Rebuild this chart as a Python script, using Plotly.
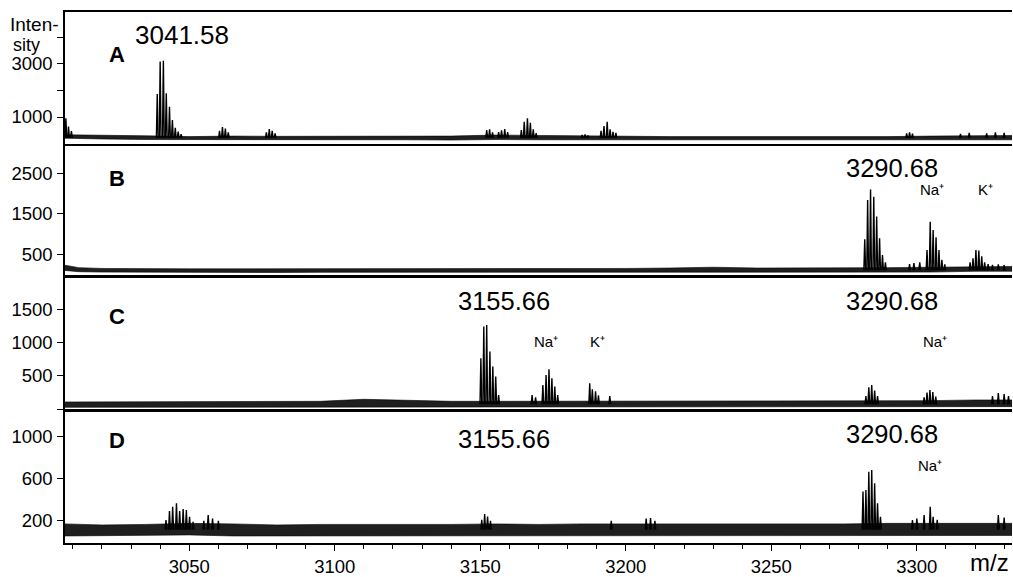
import plotly.graph_objects as go

# ---------------- data ----------------
# m/z window shown on the shared axis
mz_window = [3007.3, 3332.7]

# Panel A: isotope peaks (m/z, intensity) and baseline noise envelope
a_mz = [3007.6, 3008.5, 3009.5,
        3039.0, 3040.0, 3041.1, 3042.1, 3043.2, 3044.2, 3045.2, 3046.2, 3047.2,
        3060.4, 3061.4, 3062.4, 3063.4,
        3076.5, 3077.5, 3078.5, 3079.5,
        3152.2, 3153.2, 3154.2,
        3156.3, 3157.3, 3158.4, 3159.4,
        3164.1, 3165.1, 3166.2, 3167.2, 3168.2, 3169.2,
        3185.0, 3186.0, 3187.0,
        3191.5, 3192.5, 3193.6, 3194.6, 3195.6, 3196.6,
        3296.5, 3297.5, 3298.5,
        3315.0, 3318.0, 3324.0, 3327.0, 3330.0]
a_int = [950, 640, 470,
         1870, 3090, 3125, 1900, 1390, 890, 590, 450, 350,
         480, 620, 560, 420,
         420, 545, 480, 380,
         510, 535, 420,
         430, 500, 540, 430,
         510, 820, 950, 785, 535, 395,
         320, 340, 300,
         480, 660, 820, 535, 435, 400,
         380, 420, 370,
         360, 400, 380, 420, 400]
a_noise_mz = [3007.3, 3020, 3035, 3050, 3065, 3080, 3095, 3110, 3125, 3140, 3155,
              3170, 3185, 3200, 3215, 3230, 3245, 3260, 3275, 3290, 3305, 3320, 3332.7]
a_noise_lo = [200, 170, 150, 130, 140, 130, 130, 140, 140, 130, 150,
              140, 140, 130, 120, 120, 120, 120, 120, 120, 130, 140, 140]
a_noise_hi = [330, 300, 290, 260, 280, 270, 270, 290, 290, 280, 320,
              300, 300, 270, 260, 260, 260, 250, 250, 260, 280, 300, 300]

# Panel B
b_mz = [3282.1, 3283.1, 3284.1, 3285.2, 3286.2, 3287.2, 3288.2, 3289.2,
        3297.5, 3299.0, 3301.0,
        3303.5, 3304.6, 3305.6, 3306.6, 3307.6, 3308.6, 3309.6,
        3318.3, 3319.3, 3320.3, 3321.3, 3322.3, 3323.3, 3324.5, 3326.0, 3328.0, 3330.0]
b_int = [870, 1840, 2100, 1920, 1430, 895, 480, 300,
         260, 280, 300,
         605, 1300, 1100, 920, 605, 360, 250,
         300, 400, 605, 590, 450, 300, 260, 240, 250, 230]
b_noise_mz = [3007.3, 3012, 3020, 3035, 3050, 3065, 3080, 3095, 3110, 3125, 3140, 3155,
              3170, 3185, 3200, 3215, 3230, 3245, 3260, 3275, 3290, 3305, 3320, 3332.7]
b_noise_lo = [100, 70, 60, 50, 50, 50, 50, 55, 55, 60, 55, 55,
              55, 55, 55, 60, 70, 60, 60, 60, 60, 60, 80, 80]
b_noise_hi = [230, 170, 150, 140, 140, 140, 140, 145, 150, 155, 145, 150,
              150, 150, 150, 160, 180, 160, 160, 170, 170, 180, 200, 200]

# Panel C
c_mz = [3150.2, 3151.2, 3152.2, 3153.3, 3154.3, 3155.3, 3156.3,
        3167.8, 3169.0,
        3171.5, 3172.6, 3173.6, 3174.6, 3175.6, 3176.6,
        3187.6, 3188.5, 3189.6, 3190.6, 3194.5,
        3282.5, 3283.5, 3284.5, 3285.5, 3286.5,
        3302.5, 3303.5, 3304.5, 3305.5, 3306.5,
        3326.0, 3328.0, 3330.0, 3331.5]
c_int = [765, 1240, 1265, 865, 640, 490, 215,
         215, 180,
         365, 515, 600, 465, 340, 215,
         390, 300, 270, 210, 200,
         200, 330, 365, 280, 200,
         180, 250, 290, 260, 190,
         200, 245, 230, 200]
c_noise_mz = [3007.3, 3020, 3035, 3050, 3065, 3080, 3095, 3110, 3125, 3140, 3155,
              3170, 3185, 3200, 3215, 3230, 3245, 3260, 3275, 3290, 3305, 3320, 3332.7]
c_noise_lo = [30, 30, 30, 30, 35, 35, 35, 40, 40, 35, 35,
              35, 35, 35, 35, 35, 35, 35, 35, 35, 35, 40, 40]
c_noise_hi = [110, 110, 110, 110, 120, 120, 120, 150, 130, 120, 120,
              120, 120, 120, 120, 120, 120, 120, 120, 130, 130, 140, 140]

# Panel D
d_mz = [3042.0, 3043.2, 3044.3, 3045.6, 3046.7, 3047.9, 3049.0, 3050.1, 3051.3,
        3055.0, 3056.5, 3058.0, 3060.0,
        3150.5, 3151.5, 3152.5, 3153.5,
        3195.0, 3207.0, 3208.5, 3210.0,
        3281.5, 3282.5, 3283.5, 3284.5, 3285.5, 3286.5, 3287.5,
        3298.5, 3300.0, 3302.5, 3304.6, 3305.6, 3307.0,
        3328.0, 3330.0]
d_int = [206, 292, 333, 366, 292, 311, 302, 238, 190,
         200, 254, 220, 200,
         210, 263, 240, 200,
         200, 220, 225, 200,
         479, 492, 667, 683, 556, 366, 238,
         206, 220, 254, 333, 238, 210,
         254, 230]
d_noise_mz = [3007.3, 3020, 3035, 3050, 3065, 3080, 3095, 3110, 3125, 3140, 3155,
              3170, 3185, 3200, 3215, 3230, 3245, 3260, 3275, 3290, 3305, 3320, 3332.7]
d_noise_lo = [55, 55, 60, 65, 55, 60, 60, 60, 55, 55, 60,
              55, 55, 60, 55, 55, 60, 55, 55, 60, 60, 60, 60]
d_noise_hi = [170, 160, 165, 175, 170, 160, 165, 165, 160, 165, 170,
              165, 170, 170, 170, 165, 170, 165, 170, 175, 175, 175, 175]

# y ticks per panel
a_ticks = [1000, 3000]
a_minor = [2000, 4000]
b_ticks = [500, 1500, 2500]
c_ticks = [500, 1000, 1500]
c_minor = [0]
d_ticks = [200, 600, 1000]
mz_ticks = [3050, 3100, 3150, 3200, 3250, 3300]
mz_minor = [3010, 3020, 3030, 3040, 3060, 3070, 3080, 3090, 3110, 3120, 3130, 3140,
            3160, 3170, 3180, 3190, 3210, 3220, 3230, 3240, 3260, 3270, 3280, 3290,
            3310, 3320, 3330]

# ---------------- figure ----------------
W, H = 1013, 577
L, R, T, B = 65, 1, 12, 34
plot_w = W - L - R
plot_h = H - T - B

FONT = "Liberation Sans, Arial, Helvetica, sans-serif"
TICK_SIZE = 18.5


def px_x(px):
    return (px - L) / plot_w


def px_y(py):
    return (H - B - py) / plot_h


def spectrum_traces(mz, inten, base, nmz, nlo, nhi, ax):
    xs, ys = [], []
    for m, h in zip(mz, inten):
        xs += [m - 0.3, m, m + 0.3, None]
        ys += [base, h, base, None]
    band = go.Scatter(
        x=list(nmz) + list(nmz)[::-1],
        y=list(nhi) + list(nlo)[::-1],
        fill="toself", fillcolor="rgba(0,0,0,0.88)",
        line=dict(color="black", width=0.6),
        mode="lines", hoverinfo="skip",
        xaxis="x" + ax, yaxis="y" + ax, showlegend=False,
    )
    sticks = go.Scatter(
        x=xs, y=ys, mode="lines",
        line=dict(color="black", width=1.4),
        xaxis="x" + ax, yaxis="y" + ax, showlegend=False,
    )
    return [band, sticks]


fig = go.Figure()
fig.add_traces(spectrum_traces(a_mz, a_int, 210, a_noise_mz, a_noise_lo, a_noise_hi, ""))
fig.add_traces(spectrum_traces(b_mz, b_int, 105, b_noise_mz, b_noise_lo, b_noise_hi, "2"))
fig.add_traces(spectrum_traces(c_mz, c_int, 75, c_noise_mz, c_noise_lo, c_noise_hi, "3"))
fig.add_traces(spectrum_traces(d_mz, d_int, 115, d_noise_mz, d_noise_lo, d_noise_hi, "4"))

# panel frames in pixel rows: (top, bottom), y range, ticks, minor ticks
panels = [
    ("", (12, 144), [-19, 4962], a_ticks, a_minor),
    ("2", (146, 275), [-12, 3173], b_ticks, None),
    ("3", (277.5, 409.5), [-3, 1976], c_ticks, c_minor),
    ("4", (410.5, 543), [-12, 1250], d_ticks, None),
]

layout = dict(
    width=W, height=H,
    margin=dict(l=L, r=R, t=T, b=B, autoexpand=False),
    paper_bgcolor="white", plot_bgcolor="white",
    font=dict(family=FONT, color="black", size=TICK_SIZE),
    showlegend=False,
)

for ax, (top, bot), yr, tv, minor in panels:
    ya = dict(
        domain=[px_y(bot), px_y(top)], range=yr,
        anchor="x" + ax, automargin=False,
        tickvals=tv, ticktext=[str(v) for v in tv],
        ticks="outside", ticklen=6, tickwidth=1.3, tickcolor="black",
        showline=True, linewidth=1.5, linecolor="black",
        showgrid=False, zeroline=False,
        tickfont=dict(family=FONT, size=TICK_SIZE, color="black"),
        ticklabelstandoff=1,
    )
    if minor:
        ya["minor"] = dict(tickvals=minor, ticks="outside", ticklen=6,
                           tickwidth=1.3, tickcolor="black", showgrid=False)
    layout["yaxis" + ax] = ya

    xa = dict(
        domain=[0, 1], range=mz_window, anchor="y" + ax, automargin=False,
        showline=True, mirror=True, linewidth=1.5, linecolor="black",
        showgrid=False, zeroline=False,
    )
    if ax == "4":
        xa.update(
            tickvals=mz_ticks, ticktext=[str(v) for v in mz_ticks],
            ticks="outside", ticklen=6, tickwidth=1.3, tickcolor="black",
            minor=dict(tickvals=mz_minor, ticks="outside", ticklen=4,
                       tickwidth=1.2, tickcolor="black", showgrid=False),
            tickfont=dict(family=FONT, size=TICK_SIZE, color="black"),
            ticklabelstandoff=0,
        )
    else:
        xa.update(showticklabels=False, ticks="")
    layout["xaxis" + ax] = xa

fig.update_layout(**layout)


def label(text, px, py, size, bold=False, xanchor="center"):
    if bold:
        text = "<b>" + text + "</b>"
    fig.add_annotation(
        text=text, x=px_x(px), y=px_y(py), xref="paper", yref="paper",
        xanchor=xanchor, yanchor="middle", showarrow=False,
        font=dict(family=FONT, size=size, color="black"),
    )


NA = "Na\u207a"
KP = "K\u207a"

label("Inten-", 8, 24, 19, xanchor="left")
label("sity", 11, 45, 18, xanchor="left")

label("A", 117, 55, 22, bold=True)
label("3041.58", 182, 35, 26)

label("B", 117, 179, 22, bold=True)
label("3290.68", 892, 168, 25.5)
label(NA, 932, 189, 15)
label(KP, 985, 189, 15)

label("C", 117, 316, 22, bold=True)
label("3155.66", 504, 301, 25.5)
label(NA, 546, 341, 15)
label(KP, 597, 341, 15)
label("3290.68", 892, 301, 25.5)
label(NA, 935, 341, 15)

label("D", 117, 440, 22, bold=True)
label("3155.66", 504, 439, 25.5)
label("3290.68", 892, 434, 25.5)
label(NA, 930, 465, 15)

label("m/z", 989, 562, 24)

fig.write_html("out.html")
